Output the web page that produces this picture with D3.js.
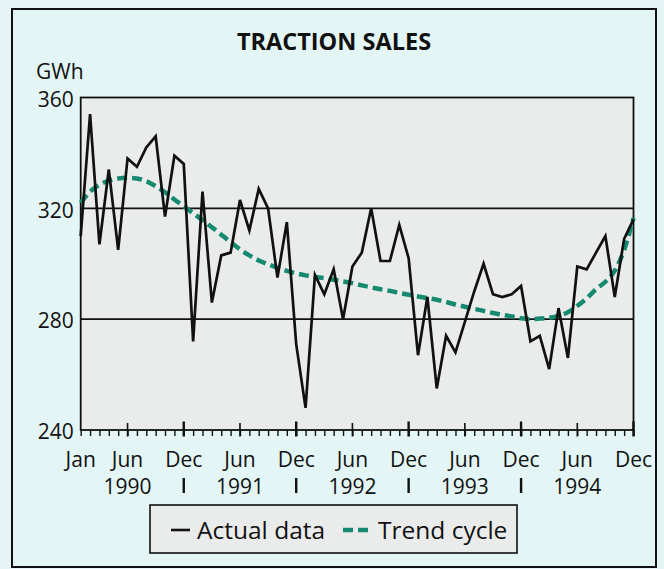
<!DOCTYPE html>
<html>
<head>
<meta charset="utf-8">
<script src="https://cdn.jsdelivr.net/npm/d3@7"></script>
<style>
  body { margin: 0; background: #e5f4f4; }
  svg { display: block; font-family: "Open Sans", "Noto Sans", sans-serif; }
</style>
</head>
<body>
<div id="chart"></div>
<script>
// Traction sales, monthly GWh, Jan 1990 - Dec 1994
var actual = [
  310, 354, 307, 334, 305, 338, 335, 342, 346, 317, 339, 336,
  272, 326, 286, 303, 304, 323, 312, 327, 320, 295, 315, 271,
  248, 296, 289, 298, 280, 299, 304, 320, 301, 301, 314, 302,
  267, 288, 255, 274, 268, 279, 290, 300, 289, 288, 289, 292,
  272, 274, 262, 284, 266, 299, 298, 304, 310, 288, 309, 316
];
var trend = [
  322, 326, 328.5, 330, 330.8, 331, 330.8, 329.8, 328, 325.8, 323.2, 320.8,
  318.2, 315.8, 313.2, 310.5, 307.8, 305.2, 303, 301.2, 299.8, 298.5, 297.4, 296.5,
  295.8, 295.2, 294.8, 294.2, 293.6, 293, 292.2, 291.5, 290.8, 290.2, 289.5, 288.8,
  288.2, 287.6, 287, 286.2, 285.3, 284.5, 283.7, 283, 282.2, 281.6, 281, 280.3,
  280, 280.2, 280.5, 281.2, 282.5, 284.8, 287.5, 290.8, 293.5, 297.5, 305, 316.5
];
var monthTicks = [0, 5, 11, 17, 23, 29, 35, 41, 47, 53, 59];
var monthNames = ["Jan", "Jun", "Dec", "Jun", "Dec", "Jun", "Dec", "Jun", "Dec", "Jun", "Dec"];
var yearTicks = [5, 17, 29, 41, 53];
var yearNames = ["1990", "1991", "1992", "1993", "1994"];
var yearBreaks = [11, 23, 35, 47];
var yTicks = [240, 280, 320, 360];

var svgWidth = 664;
var svgHeight = 569;

var plot = { left: 80.7, right: 633.5, top: 97.5, bottom: 430 };

var svg = d3.select("#chart")
  .append("svg")
  .attr("width", svgWidth)
  .attr("height", svgHeight);

// outer frame
svg.append("rect")
  .attr("x", 12).attr("y", 9)
  .attr("width", 644).attr("height", 558)
  .attr("fill", "#e4f5f5")
  .attr("stroke", "#111")
  .attr("stroke-width", 2);

svg.append("text")
  .attr("x", 334).attr("y", 50)
  .attr("text-anchor", "middle")
  .attr("font-size", 23.5)
  .attr("font-weight", "bold")
  .attr("fill", "#111")
  .text("TRACTION SALES");

svg.append("text")
  .attr("x", 36).attr("y", 79)
  .attr("font-size", 21)
  .attr("fill", "#111")
  .text("GWh");

var x = d3.scaleLinear()
  .domain([0, actual.length - 1])
  .range([plot.left, plot.right]);

var y = d3.scaleLinear()
  .domain([240, 360])
  .range([plot.bottom, plot.top]);

// plot background
svg.append("rect")
  .attr("x", plot.left).attr("y", plot.top)
  .attr("width", plot.right - plot.left)
  .attr("height", plot.bottom - plot.top)
  .attr("fill", "#eaecec");

// gridlines at 280 and 320
svg.append("g")
  .selectAll("line")
  .data([280, 320])
  .enter()
  .append("line")
  .attr("x1", plot.left).attr("x2", plot.right)
  .attr("y1", d => y(d)).attr("y2", d => y(d))
  .attr("stroke", "#111")
  .attr("stroke-width", 1.6);

// y axis labels
var leftAxis = d3.axisLeft(y).tickValues(yTicks).tickSize(0).tickPadding(7);
var yAxis = svg.append("g")
  .attr("transform", `translate(${plot.left}, 0)`)
  .call(leftAxis);
yAxis.select(".domain").remove();
yAxis.selectAll("text")
  .attr("font-size", 21)
  .attr("font-family", "Open Sans, sans-serif")
  .attr("fill", "#111")
  .attr("dy", "0.42em");

// x axis: small tick every month
var bottomAxis = d3.axisBottom(x).tickValues(d3.range(actual.length)).tickSize(6).tickFormat("");
var xAxis = svg.append("g")
  .attr("transform", `translate(0, ${plot.bottom})`)
  .call(bottomAxis);
xAxis.select(".domain").remove();
xAxis.selectAll("line").attr("stroke", "#111").attr("stroke-width", 1.4);

// taller ticks at Jun and Dec
svg.append("g")
  .selectAll("line")
  .data(monthTicks.slice(1))
  .enter()
  .append("line")
  .attr("x1", d => x(d)).attr("x2", d => x(d))
  .attr("y1", d => plot.bottom - ((d % 12 === 11) ? 8.5 : 7))
  .attr("y2", plot.bottom + 6.5)
  .attr("stroke", "#111")
  .attr("stroke-width", d => (d % 12 === 11) ? 2.4 : 1.6);

// plot border
svg.append("rect")
  .attr("x", plot.left).attr("y", plot.top)
  .attr("width", plot.right - plot.left)
  .attr("height", plot.bottom - plot.top)
  .attr("fill", "none")
  .attr("stroke", "#111")
  .attr("stroke-width", 1.8);

// month labels
svg.append("g")
  .selectAll("text")
  .data(monthTicks)
  .enter()
  .append("text")
  .attr("x", d => x(d))
  .attr("y", 467)
  .attr("text-anchor", "middle")
  .attr("font-size", 21)
  .attr("fill", "#111")
  .text((d, i) => monthNames[i]);

// year labels
svg.append("g")
  .selectAll("text")
  .data(yearTicks)
  .enter()
  .append("text")
  .attr("x", d => x(d))
  .attr("y", 494)
  .attr("text-anchor", "middle")
  .attr("font-size", 21)
  .attr("fill", "#111")
  .text((d, i) => yearNames[i]);

// year separators
svg.append("g")
  .selectAll("line")
  .data(yearBreaks)
  .enter()
  .append("line")
  .attr("x1", d => x(d)).attr("x2", d => x(d))
  .attr("y1", 478).attr("y2", 493)
  .attr("stroke", "#111")
  .attr("stroke-width", 2.4);

// trend cycle (dashed)
var trendLine = d3.line()
  .x((d, i) => x(i))
  .y(d => y(d))
  .curve(d3.curveMonotoneX);

svg.append("path")
  .datum(trend)
  .attr("d", trendLine)
  .attr("fill", "none")
  .attr("stroke", "#168a70")
  .attr("stroke-width", 4.5)
  .attr("stroke-dasharray", "10,5");

// actual data
var actualLine = d3.line()
  .x((d, i) => x(i))
  .y(d => y(d));

svg.append("path")
  .datum(actual)
  .attr("d", actualLine)
  .attr("fill", "none")
  .attr("stroke", "#111")
  .attr("stroke-width", 2.7)
  .attr("stroke-linejoin", "miter");

// legend
var legend = svg.append("g");
legend.append("rect")
  .attr("x", 150).attr("y", 505)
  .attr("width", 367).attr("height", 48)
  .attr("fill", "#eaecec")
  .attr("stroke", "#111")
  .attr("stroke-width", 1.6);

legend.append("line")
  .attr("x1", 171).attr("x2", 190)
  .attr("y1", 530).attr("y2", 530)
  .attr("stroke", "#111")
  .attr("stroke-width", 2.6);

legend.append("text")
  .attr("x", 197).attr("y", 539)
  .attr("font-size", 24.5)
  .attr("fill", "#111")
  .text("Actual data");

legend.append("line")
  .attr("x1", 343).attr("x2", 371)
  .attr("y1", 530).attr("y2", 530)
  .attr("stroke", "#168a70")
  .attr("stroke-width", 4.5)
  .attr("stroke-dasharray", "10,5");

legend.append("text")
  .attr("x", 378).attr("y", 539)
  .attr("font-size", 24.5)
  .attr("fill", "#111")
  .text("Trend cycle");
</script>
</body>
</html>
